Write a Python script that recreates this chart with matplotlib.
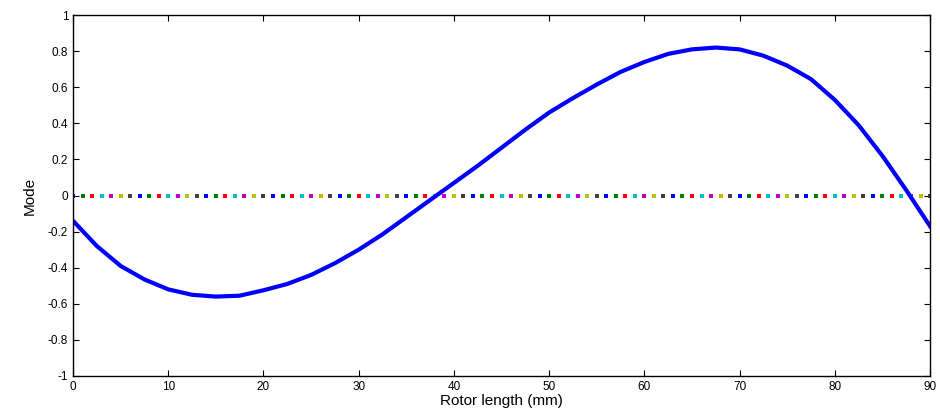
import numpy as np
import matplotlib.pyplot as plt

# Mode shape along the rotor
x_mm = [0, 2.5, 5, 7.5, 10, 12.5, 15, 17.5, 20, 22.5, 25, 27.5, 30, 32.5, 35,
        37.5, 40, 42.5, 45, 47.5, 50, 52.5, 55, 57.5, 60, 62.5, 65, 67.5, 70,
        72.5, 75, 77.5, 80, 82.5, 85, 87.5, 90]
mode = [-0.14, -0.28, -0.39, -0.465, -0.52, -0.55, -0.56, -0.555, -0.525,
        -0.49, -0.44, -0.375, -0.30, -0.215, -0.12, -0.025, 0.07, 0.165,
        0.265, 0.365, 0.46, 0.54, 0.615, 0.685, 0.74, 0.785, 0.81, 0.82,
        0.81, 0.775, 0.72, 0.645, 0.53, 0.39, 0.22, 0.03, -0.17]

# reference nodes on the zero line, one per mm
nodes = list(range(0, 91))
node_colors = ['#0000ff', '#008000', '#ff0000', '#00bfbf', '#bf00bf', '#bfbf00', '#404040']

plt.rcParams['font.family'] = ['Liberation Sans', 'DejaVu Sans']

fig = plt.figure(figsize=(9.4, 4.12), dpi=100)
ax = fig.add_axes([0.0777, 0.0874, 0.9117, 0.876])

for i, xn in enumerate(nodes):
    ax.plot(xn, 0, 's', color=node_colors[i % 7], markersize=2.5,
            markeredgewidth=0)

ax.plot(x_mm, mode, color='#0000ff', linewidth=3.0, solid_joinstyle='round')

ax.set_xlim(0, 90)
ax.set_ylim(-1, 1)
ax.set_xticks(np.arange(0, 91, 10))
ax.set_yticks(np.round(np.arange(-1, 1.01, 0.2), 1))
ax.set_yticklabels(['-1', '-0.8', '-0.6', '-0.4', '-0.2', '0', '0.2', '0.4', '0.6', '0.8', '1'])
ax.tick_params(direction='in', top=True, right=True, labelsize=8.5, length=4, width=0.8)
for s in ax.spines.values():
    s.set_linewidth(1.0)

ax.set_xlabel('Rotor length (mm)', fontsize=11, labelpad=1)
ax.set_ylabel('Mode', fontsize=11, labelpad=8)

fig.savefig('out.png', dpi=100)
